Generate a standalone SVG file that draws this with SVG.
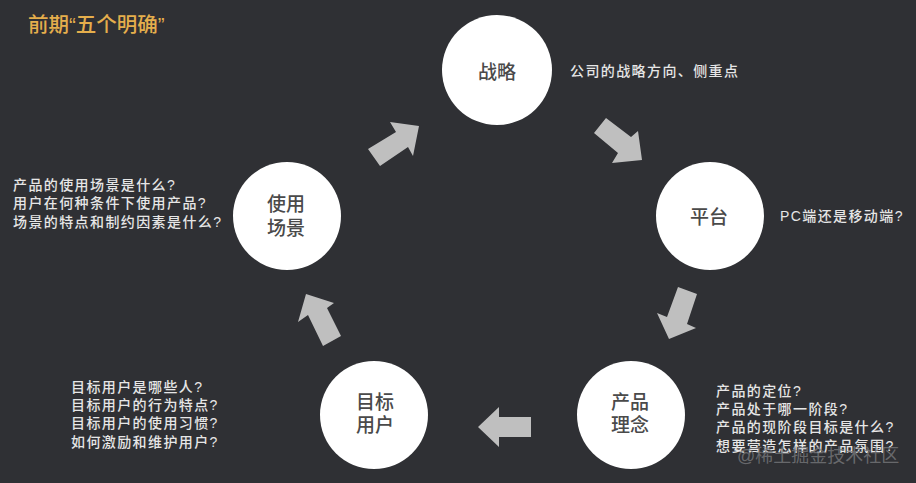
<svg xmlns="http://www.w3.org/2000/svg" width="916" height="483" viewBox="0 0 916 483">
<style>
text{font-family:"Liberation Sans","Noto Sans CJK SC",sans-serif}
.c{fill:#fff}
.n{font-size:19px;fill:#4a4a4a;text-anchor:middle;font-weight:500}
.d{font-size:14px;fill:#e6e6e6;font-weight:500;letter-spacing:1.4px}
.a{fill:#bfbfbf}
</style>
<rect width="916" height="483" fill="#2f3034"/>
<text x="28" y="32" font-size="20.5" font-weight="500" fill="#e5ae4c">前期“五个明确”</text>
<g id="connectors">
<polygon class="a" points="368,149 380,166 408,147 413,156 419,126 390,122 396,132"/>
<polygon class="a" points="606,118 594,133 618,153 612,163 642,160 638,131 631,137"/>
<polygon class="a" points="678,287 697,294 687,324 696,328 669,339 657,313 667,317"/>
<polygon class="a" points="531,417 531,437 499,437 499,447 478,427 499,407 499,417"/>
<polygon class="a" points="341,336 323,346 308,315 298,322 306,294 334,303 327,308"/>
</g>
<g id="strategy"><circle class="c" cx="497" cy="70" r="55"/><text class="n" x="497" y="79">战略</text></g>
<g id="platform"><circle class="c" cx="710" cy="216" r="54"/><text class="n" x="709" y="224">平台</text></g>
<g id="concept"><circle class="c" cx="631" cy="415" r="54"/><text class="n" x="630" y="409">产品</text><text class="n" x="630" y="432">理念</text></g>
<g id="target"><circle class="c" cx="374" cy="415" r="54"/><text class="n" x="375" y="409">目标</text><text class="n" x="375" y="432">用户</text></g>
<g id="scene"><circle class="c" cx="287" cy="216" r="54"/><text class="n" x="286" y="211">使用</text><text class="n" x="286" y="235">场景</text></g>
<g id="labels">
<text class="d" x="570" y="76">公司的战略方向、侧重点</text>
<text class="d" x="780" y="221">PC端还是移动端?</text>
<text class="d" x="13" y="190">产品的使用场景是什么?</text>
<text class="d" x="13" y="208">用户在何种条件下使用产品?</text>
<text class="d" x="13" y="227">场景的特点和制约因素是什么?</text>
<text class="d" x="71" y="392">目标用户是哪些人?</text>
<text class="d" x="71" y="410">目标用户的行为特点?</text>
<text class="d" x="71" y="428">目标用户的使用习惯?</text>
<text class="d" x="71" y="447">如何激励和维护用户?</text>
<text class="d" x="716" y="396">产品的定位?</text>
<text class="d" x="716" y="414">产品处于哪一阶段?</text>
<text class="d" x="716" y="432">产品的现阶段目标是什么?</text>
<text class="d" x="716" y="451">想要营造怎样的产品氛围?</text>
<text x="737" y="462" font-size="18" fill="#77787b" fill-opacity=".8">@稀土掘金技术社区</text>
</g>
</svg>
